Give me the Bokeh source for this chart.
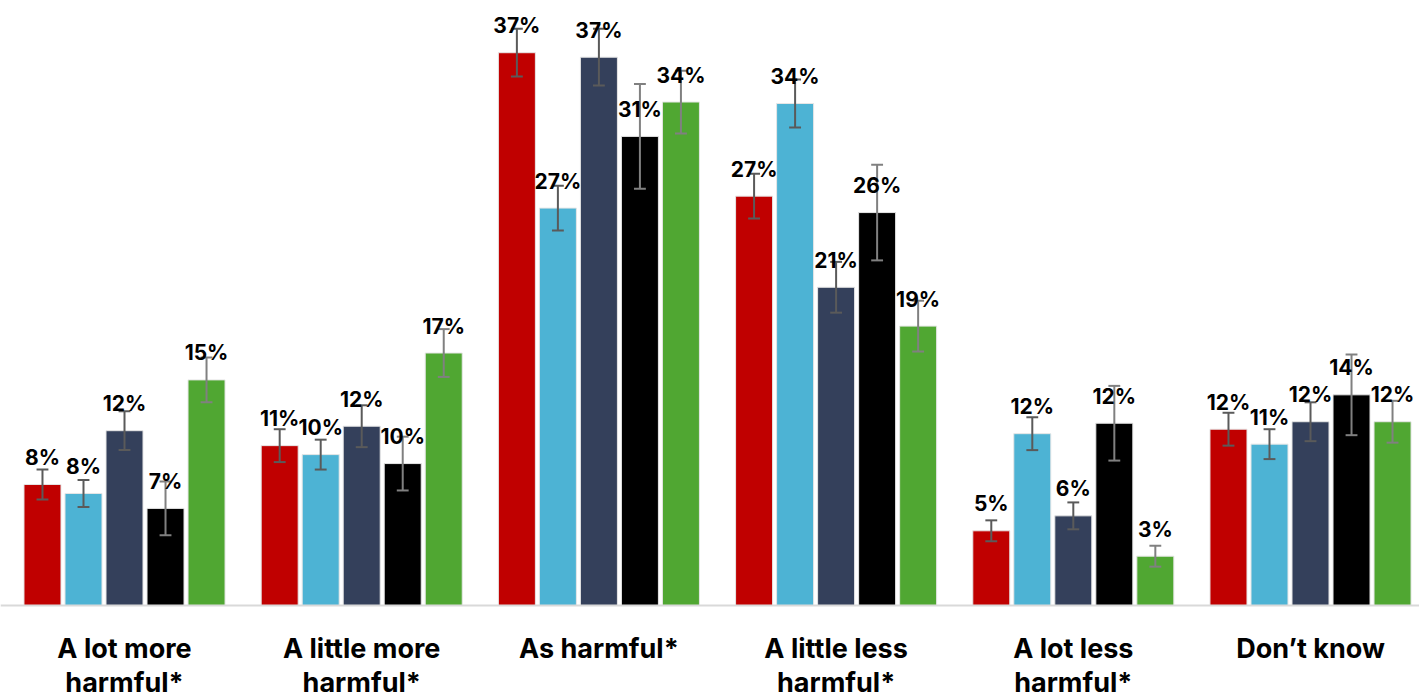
import numpy as np
from bokeh.plotting import figure
from bokeh.models import Range1d, Span, ColumnDataSource
from bokeh.core.properties import value
from bokeh.embed import file_html
from bokeh.resources import INLINE

# ---- data ----
categories = ["A lot more harmful*", "A little more harmful*", "As harmful*",
              "A little less harmful*", "A lot less harmful*", "Don\u2019t know"]
cat_line1 = ["A lot more", "A little more", "As harmful*", "A little less", "A lot less", "Don\u2019t know"]
cat_line2 = ["harmful*", "harmful*", "", "harmful*", "harmful*", ""]

series_names = ["Series 1", "Series 2", "Series 3", "Series 4", "Series 5"]
s1 = [8.1, 10.7, 37.0, 27.4, 5.0, 11.8]
s2 = [7.5, 10.1, 26.6, 33.6, 11.5, 10.8]
s3 = [11.7, 12.0, 36.7, 21.3, 6.0, 12.3]
s4 = [6.5, 9.5, 31.4, 26.3, 12.2, 14.1]
s5 = [15.1, 16.9, 33.7, 18.7, 3.3, 12.3]
e1 = [1.0, 1.1, 1.6, 1.5, 0.7, 1.1]
e2 = [0.9, 1.0, 1.5, 1.6, 1.1, 1.0]
e3 = [1.3, 1.4, 1.9, 1.7, 0.9, 1.3]
e4 = [1.8, 1.8, 3.5, 3.2, 2.5, 2.7]
e5 = [1.5, 1.6, 2.1, 1.7, 0.7, 1.4]
labels1 = ["8%", "11%", "37%", "27%", "5%", "12%"]
labels2 = ["8%", "10%", "27%", "34%", "12%", "11%"]
labels3 = ["12%", "12%", "37%", "21%", "6%", "12%"]
labels4 = ["7%", "10%", "31%", "26%", "12%", "14%"]
labels5 = ["15%", "17%", "34%", "19%", "3%", "12%"]

values = [s1, s2, s3, s4, s5]
errors = [e1, e2, e3, e4, e5]
labels = [labels1, labels2, labels3, labels4, labels5]
colors = ["#C00000", "#4DB3D4", "#34405B", "#000000", "#50A732"]
err_colors = ["#5A5A5A", "#5A5A5A", "#5A5A5A", "#808080", "#808080"]

FONT = "Inter"

p = figure(width=1419, height=698, output_backend="svg", toolbar_location=None,
           x_range=Range1d(-0.0228, 5.9595), y_range=Range1d(-6.225, 40.495),
           min_border=0, outline_line_color=None,
           x_axis_location=None, y_axis_location=None)
p.xgrid.visible = False
p.ygrid.visible = False
p.background_fill_color = "white"
p.border_fill_color = "white"

n = len(categories)
centers = np.arange(n) + 0.5
step = 0.1729
bw = 0.156
cap = 0.025

for k in range(5):
    xs = centers + (k - 2) * step
    v = np.array(values[k])
    e = np.array(errors[k])
    src = ColumnDataSource(dict(x=xs, top=v, lo=v - e, hi=v + e,
                                xl=xs - cap, xr=xs + cap, lab=labels[k]))
    p.vbar(x="x", top="top", bottom=0, width=bw, source=src,
           fill_color=colors[k], line_color="#e6e6e6", line_width=1)
    p.segment(x0="x", y0="lo", x1="x", y1="hi", source=src,
              line_color=err_colors[k], line_width=2)
    p.segment(x0="xl", y0="lo", x1="xr", y1="lo", source=src,
              line_color=err_colors[k], line_width=2)
    p.segment(x0="xl", y0="hi", x1="xr", y1="hi", source=src,
              line_color=err_colors[k], line_width=2)

for k in range(5):
    xs = centers + (k - 2) * step
    src = ColumnDataSource(dict(x=xs, y=values[k], lab=labels[k]))
    p.text(x="x", y="y", text="lab", source=src, y_offset=-27,
           text_font=value(FONT), text_font_style="bold", text_font_size="21px",
           text_align="center", text_baseline="alphabetic", text_color="#000000")

p.add_layout(Span(location=0, dimension="width", line_color="#D9D9D9", line_width=2))

csrc = ColumnDataSource(dict(x=centers, y=[0] * n, l1=cat_line1, l2=cat_line2))
p.text(x="x", y="y", text="l1", source=csrc, y_offset=43,
       text_font=value(FONT), text_font_style="bold", text_font_size="27px",
       text_align="center", text_baseline="alphabetic", text_color="#000000")
p.text(x="x", y="y", text="l2", source=csrc, y_offset=77,
       text_font=value(FONT), text_font_style="bold", text_font_size="27px",
       text_align="center", text_baseline="alphabetic", text_color="#000000")

open("out.html", "w").write(file_html(p, INLINE))
